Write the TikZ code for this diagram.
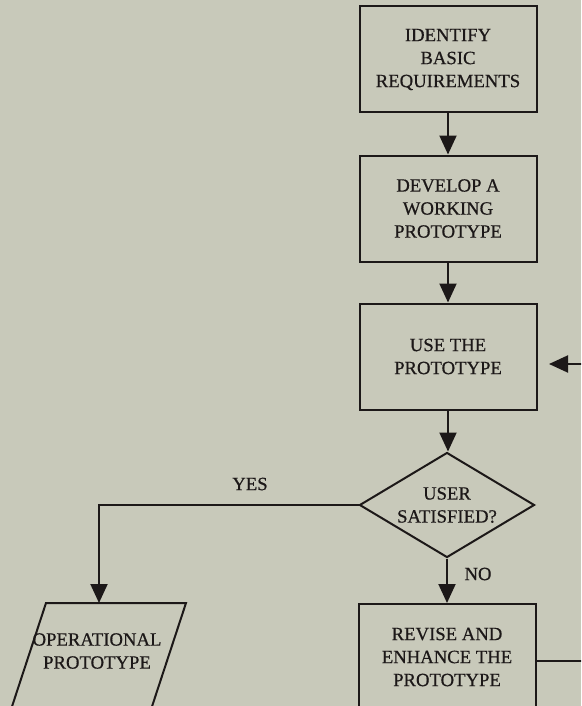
\documentclass[tikz,border=0pt]{standalone}
\usepackage{fontspec}
\setmainfont[FakeBold=0.6]{Liberation Serif}
\usetikzlibrary{arrows.meta,shapes.geometric}
\definecolor{bg}{RGB}{200,201,186}
\definecolor{ink}{RGB}{28,24,24}
\begin{document}
\begin{tikzpicture}[x=1pt,y=-1pt,
  txt/.style={font=\fontsize{18.7}{23}\selectfont, text=ink, align=center},
  stepbox/.style={txt, draw=ink, line width=2pt, rectangle, minimum width=177pt, minimum height=106pt, inner sep=0pt},
  decbox/.style={txt, draw=ink, line width=2pt, diamond, aspect=1.667, minimum width=175pt, minimum height=105pt, inner sep=0pt},
  flow/.style={draw=ink, line width=2pt, -{Triangle[length=19pt,width=17pt]}},
  lbl/.style={txt, inner sep=0pt}]
\useasboundingbox (0,0) rectangle (581,706);
\clip (0,0) rectangle (581,706);
\fill[bg] (0,0) rectangle (581,706);

\node[stepbox] (id) at (448,59.5) {IDENTIFY\\BASIC\\REQUIREMENTS};
\node[stepbox] (dev) at (448,208.5) {DEVELOP A\\WORKING\\PROTOTYPE};
\node[stepbox] (use) at (448,356.5) {USE THE\\PROTOTYPE};
\node[decbox] (dia) at (447,505) {USER\\SATISFIED?};
\node[stepbox] (rev) at (447,657) {REVISE AND\\ENHANCE THE\\PROTOTYPE};

\draw[draw=ink, line width=2pt] (46,603) -- (186,603) -- (141,740) -- (1,740) -- cycle;
\coordinate (optop) at (99,603);
\node[lbl] (op) at (97,651) {OPERATIONAL\\PROTOTYPE};

\coordinate (usein) at (549,364);
\coordinate (far) at (600,364);

\draw[flow] (id) -- (dev);
\draw[flow] (dev) -- (use);
\draw[flow] (use.south) -- (use.south |- dia.north);
\draw[flow] (dia.west) -| (optop);
\draw[flow] (dia.south) -- (rev.north);
\draw[flow] ([yshift=-4pt]rev.east) -- ([yshift=-4pt]rev.east -| far) -- (far) -- (usein);

\node[lbl] (yes) at (250,484) {YES};
\node[lbl] (no) at (478,574) {NO};
\end{tikzpicture}
\end{document}
